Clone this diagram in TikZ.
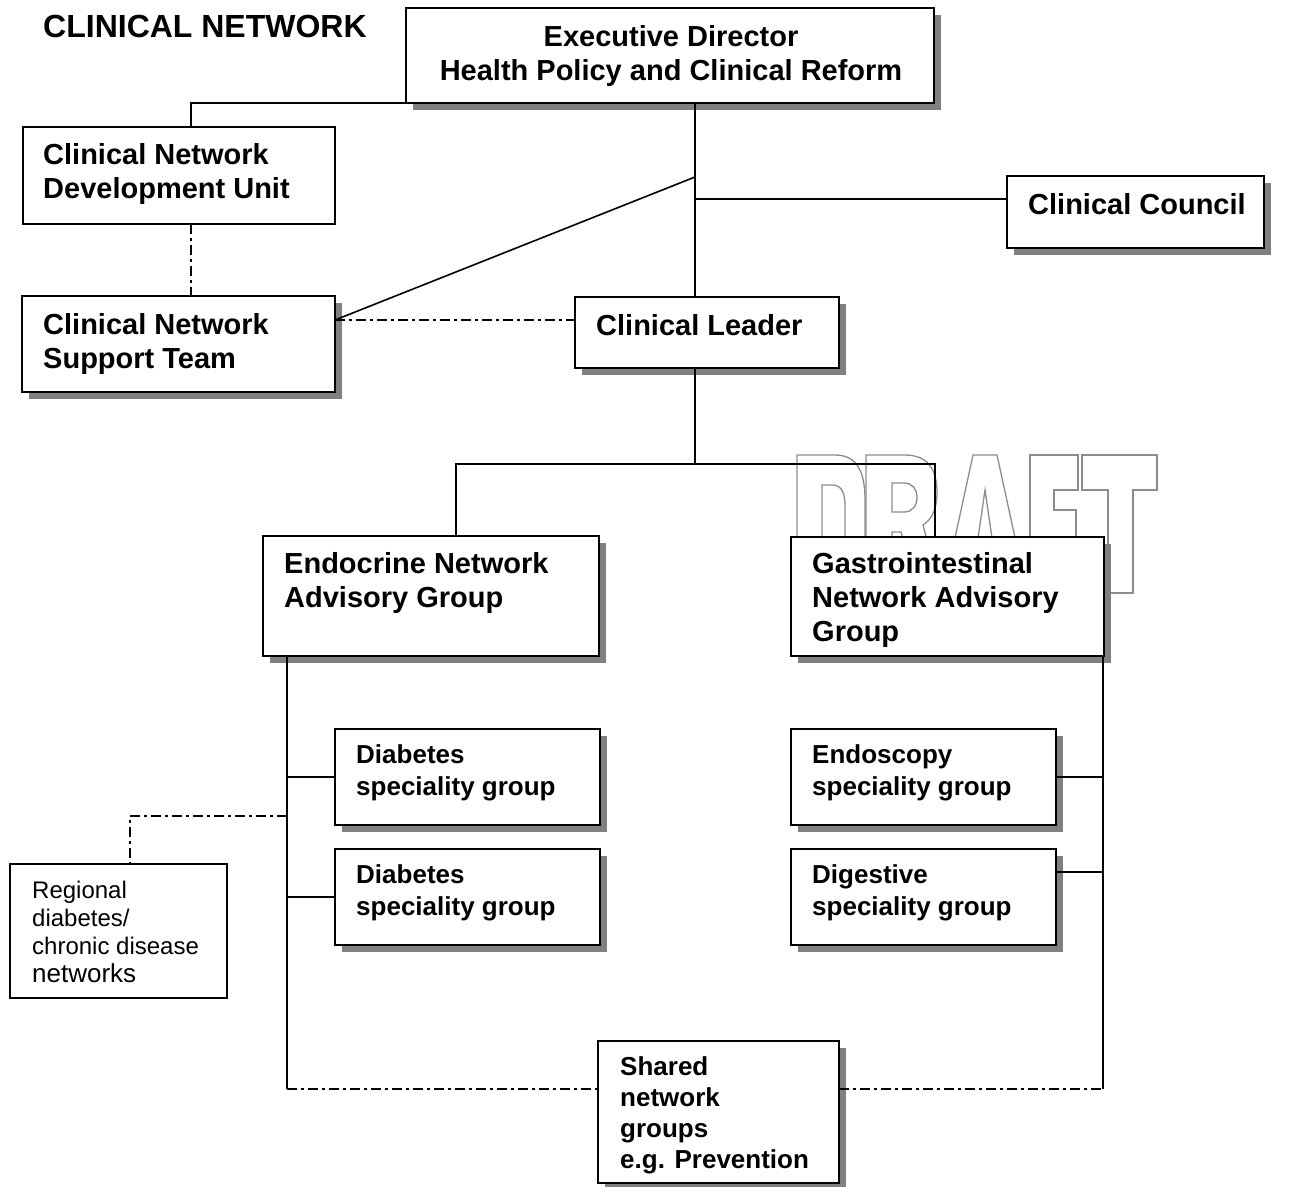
\documentclass[tikz,border=0pt]{standalone}
\usepackage{fontspec}
\setmainfont{Liberation Sans}
\usetikzlibrary{calc,shadows}
\newcommand{\boxlines}[1]{\begin{tabular}[t]{@{}l@{}}#1\end{tabular}}
\newcommand{\boxlinesc}[1]{\begin{tabular}[t]{@{}c@{}}#1\end{tabular}}
\begin{document}
\begin{tikzpicture}[x=1pt,y=-1pt,
  box/.style={draw=black, line width=1.6pt, fill=white, anchor=north west, inner sep=0pt, outer sep=0pt},
  shad/.style={drop shadow={shadow xshift=7pt, shadow yshift=-7pt, fill=black!50, opacity=1, draw=none}},
  conn/.style={draw=black, line width=1.6pt},
  dd/.style={draw=black, line width=1.6pt, dash pattern=on 10pt off 4pt on 3pt off 4pt},
  wm/.style={draw=black!45, line width=1.3pt},
  big/.style={anchor=base west, inner sep=0pt, font=\bfseries\fontsize{29}{34}\selectfont},
  mid/.style={anchor=base west, inner sep=0pt, font=\bfseries\fontsize{26}{32}\selectfont},
]
\useasboundingbox (0,0) rectangle (1292,1186);
\fill[white] (0,0) rectangle (1292,1186);

% DRAFT watermark (outlined letters)
\draw[wm] (797,455) -- (835,455) .. controls (856,455) and (865,470) .. (865,500) -- (865,550) .. controls (865,580) and (856,593) .. (835,593) -- (797,593) -- cycle;
\draw[wm] (822,485) -- (832,485) .. controls (841,485) and (845,492) .. (845,505) -- (845,545) .. controls (845,558) and (841,565) .. (832,565) -- (822,565) -- cycle;
\draw[wm] (866,455) -- (905,455) .. controls (928,455) and (937,470) .. (937,492) .. controls (937,510) and (931,520) .. (923,525) -- (941,593) -- (916,593) -- (901,532) -- (892,532) -- (892,593) -- (866,593) -- cycle;
\draw[wm] (892,483) -- (904,483) .. controls (913,483) and (917,490) .. (917,497) .. controls (917,505) and (913,512) .. (904,512) -- (892,512) -- cycle;
\draw[wm] (943,593) -- (973,455) -- (997,455) -- (1027,593) -- (1003,593) -- (998,568) -- (972,568) -- (967,593) -- cycle;
\draw[wm] (977,545) -- (985,490) -- (993,545) -- cycle;
\draw[wm] (1030,455) -- (1078,455) -- (1078,490) -- (1054,490) -- (1054,510) -- (1076,510) -- (1076,540) -- (1054,540) -- (1054,593) -- (1030,593) -- cycle;
\draw[wm] (1082,455) -- (1157,455) -- (1157,490) -- (1133,490) -- (1133,593) -- (1108,593) -- (1108,490) -- (1082,490) -- cycle;

% Title
\node[anchor=base west, inner sep=0pt, font=\bfseries\fontsize{32}{36}\selectfont] (title) at (43,37) {CLINICAL NETWORK};

% helper coordinates
\coordinate (sp) at (695,0);
\coordinate (jd) at (695,177);
\coordinate (jc) at (695,199);
\coordinate (ys) at (0,320);
\coordinate (dx) at (191,0);
\coordinate (hb) at (0,464);
\coordinate (ex) at (456,0);
\coordinate (gx) at (935,0);
\coordinate (lx) at (287,0);
\coordinate (rlx) at (1103,0);
\coordinate (yb) at (0,1089);
\coordinate (ry) at (0,816);
\coordinate (rx) at (130,0);

\path
  node[box, shad, minimum width=528pt, minimum height=95pt] (exec) at (406,8) {}
  node[box, minimum width=312pt, minimum height=97pt] (dev) at (23,127) {}
  node[box, shad, minimum width=257pt, minimum height=72pt] (council) at (1007,176) {}
  node[box, shad, minimum width=313pt, minimum height=96pt] (support) at (22,296) {}
  node[box, shad, minimum width=264pt, minimum height=71pt] (leader) at (575,297) {};

% connectors top part
\draw[conn] (exec.south -| sp) -- (leader.north -| sp);
\draw[conn] (jc) -- (council.west |- jc);
\draw[conn] (jd) -- (support.east |- ys);
\draw[conn] (exec.south west) -| (dev.north -| dx);
\draw[dd] (dev.south -| dx) -- (support.north -| dx);
\draw[dd] (support.east |- ys) -- (leader.west |- ys);

\path
  node[box, shad, minimum width=336pt, minimum height=120pt] (endo) at (263,536) {}
  node[box, shad, minimum width=313pt, minimum height=119pt] (gastro) at (791,537) {}
  node[box, shad, minimum width=265pt, minimum height=96pt] (diab1) at (335,729) {}
  node[box, shad, minimum width=265pt, minimum height=96pt] (diab2) at (335,849) {}
  node[box, shad, minimum width=265pt, minimum height=96pt] (endosc) at (791,729) {}
  node[box, shad, minimum width=265pt, minimum height=96pt] (digest) at (791,849) {}
  node[box, line width=1.3pt, minimum width=217pt, minimum height=134pt] (regional) at (10,864) {}
  node[box, shad, minimum width=241pt, minimum height=142pt] (shared) at (598,1041) {};

\coordinate (dg) at ([yshift=25pt]digest.east);

\draw[conn] (leader.south -| sp) -- (hb -| sp);
\draw[conn] (endo.north -| ex) -- (hb -| ex) -- (hb -| gx) -- (gastro.north -| gx);
\draw[conn] (endo.south -| lx) -- (yb -| lx);
\draw[dd] (yb -| lx) -- (shared.west |- yb);
\draw[conn] (diab1.west) -- (diab1.west -| lx);
\draw[conn] (diab2.west) -- (diab2.west -| lx);
\draw[dd] (ry -| lx) -| (regional.north -| rx);
\draw[conn] (gastro.south -| rlx) -- (yb -| rlx);
\draw[dd] (shared.east |- yb) -- (yb -| rlx);
\draw[conn] (endosc.east) -- (endosc.east -| rlx);
\draw[conn] (dg) -- (dg -| rlx);

% Texts
\node[anchor=base, inner sep=0pt, font=\bfseries\fontsize{29}{34}\selectfont] (t-exec) at (671,46) {\boxlinesc{Executive Director\\Health Policy and Clinical Reform}};
\node[big] (t-dev) at (43,164) {\boxlines{Clinical Network\\Development Unit}};
\node[big] (t-council) at (1028,214) {Clinical Council};
\node[big] (t-support) at (43,334) {\boxlines{Clinical Network\\Support Team}};
\node[big] (t-leader) at (596,335) {Clinical Leader};
\node[big] (t-endo) at (284,573) {\boxlines{Endocrine Network\\Advisory Group}};
\node[big] (t-gastro) at (812,573) {\boxlines{Gastrointestinal\\Network Advisory\\Group}};
\node[mid] (t-diab1) at (356,763) {\boxlines{Diabetes\\speciality group}};
\node[mid] (t-diab2) at (356,883) {\boxlines{Diabetes\\speciality group}};
\node[mid] (t-endosc) at (812,763) {\boxlines{Endoscopy\\speciality group}};
\node[mid] (t-digest) at (812,883) {\boxlines{Digestive\\speciality group}};
\node[mid, font=\bfseries\fontsize{26}{31}\selectfont] (t-shared) at (620,1075) {\boxlines{Shared\\network\\groups\\e.g. Prevention}};
\node[anchor=base west, inner sep=0pt, font=\fontsize{24}{28}\selectfont] (t-regional) at (32,898) {\boxlines{Regional\\diabetes/\\chronic disease\\{\fontsize{26}{28}\selectfont networks}}};
\end{tikzpicture}
\end{document}
